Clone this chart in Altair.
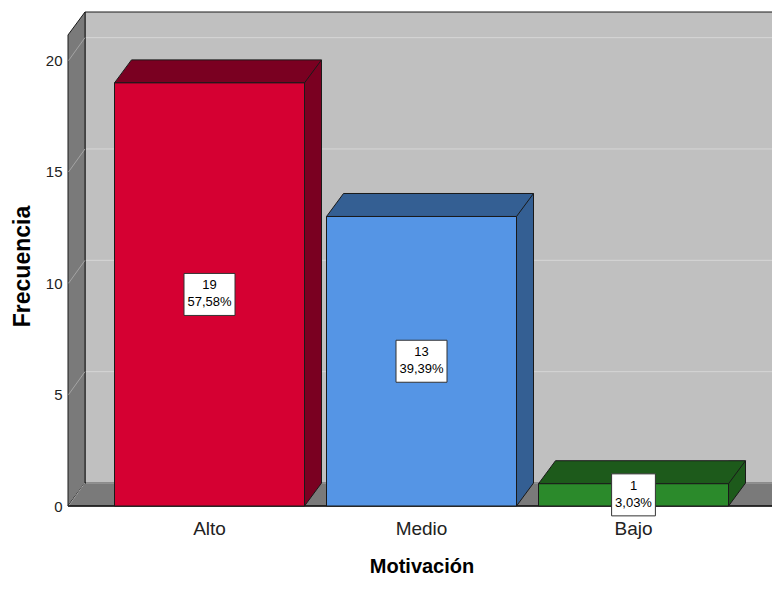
import altair as alt
import pandas as pd

# ---------------- data ----------------
categories = ["Alto", "Medio", "Bajo"]
counts = [19, 13, 1]
front_colors = ["#d50032", "#5595e5", "#2b8a2b"]
dark_colors = ["#7a0021", "#345f93", "#1d5a1b"]
y_ticks = [0, 5, 10, 15, 20]

total = sum(counts)
pcts = [f"{c / total * 100:.2f}".replace(".", ",") + "%" for c in counts]

# ---------------- layout constants (pixels) ----------------
W_FULL, H = 707, 471     # front plane
STEP, BW = 212, 190      # band step / bar width
DX, DY = 17, 23          # 3D depth offset
PAD_L, PAD_T = 60, 27
CANVAS_W, CANVAS_H = 764, 570
W = CANVAS_W - PAD_L     # declared plot width (front plane is cut by the page edge)
YMAX = 21.15
EDGE = "#1a1a1a"
FONT = "Liberation Sans"

p_inner = 1 - BW / STEP
p_outer = (W_FULL / STEP - len(categories) + p_inner) / 2
HB = BW / 2

# approximate text width (Arial metrics, 13px) for label boxes
_cw = {",": 278, "%": 889, ".": 278}
def text_w(s, fs=13):
    return sum(_cw.get(ch, 556) for ch in s) * fs / 1000

def box_path(s):
    hw = (text_w(s) + 7) / 2
    hh = 21
    return f"M{-hw:.1f},{-hh}L{hw:.1f},{-hh}L{hw:.1f},{hh}L{-hw:.1f},{hh}Z"

df = pd.DataFrame({
    "cat": categories,
    "count": counts,
    "front": front_colors,
    "dark": dark_colors,
    "pct": pcts,
    "mid": [c / 2 for c in counts],
    "box": [box_path(p) for p in pcts],
})
grid = pd.DataFrame({"v": y_ticks})
zero = pd.DataFrame({"v": [0]})

# ---------------- shared encodings ----------------
x_scale = alt.Scale(domain=categories, paddingInner=p_inner, paddingOuter=p_outer,
                    range=[0, W_FULL])
x_axis = alt.Axis(
    domain=False, ticks=False, tickSize=0, labelAngle=0,
    labelFont=FONT, labelFontSize=19, labelColor="#222222",
    labelBaseline="alphabetic", labelPadding=28,
    title="Motivación", titleFont=FONT, titleFontSize=20, titleFontWeight="bold",
    titleColor="#000000", titleBaseline="alphabetic", titleX=W_FULL / 2, titleY=66,
)
y_scale = alt.Scale(domain=[0, YMAX], nice=False, zero=True)
y_axis = alt.Axis(
    values=y_ticks, domain=False, ticks=False, tickSize=0, grid=False,
    labelFont=FONT, labelFontSize=15, labelColor="#222222", labelPadding=6,
    title="Frecuencia", titleFont=FONT, titleFontSize=23, titleFontWeight="bold",
    titleColor="#000000", titleBaseline="alphabetic", titleX=-39, titleY=231,
    titleAngle=-90,
)

def X():
    return alt.X("cat:N", sort=categories, scale=x_scale, axis=x_axis, title="Motivación")

def Y(field):
    return alt.Y(f"{field}:Q", scale=y_scale, axis=y_axis, title="Frecuencia")

def sym(path, **kw):
    base = dict(shape=path, size=4, opacity=1)
    base.update(kw)
    return base

# ---------------- walls ----------------
back_wall = alt.Chart(zero).mark_rect(
    fill="#c0c0c0", stroke=EDGE, strokeWidth=1
).encode(
    x=alt.value(DX), x2=alt.value(W_FULL + 40), y=alt.value(-DY), y2=alt.value(H - DY)
)

left_wall = alt.Chart(zero).mark_point(
    **sym(f"M0,0L0,{-H}L{DX},{-H - DY}L{DX},{-DY}Z", filled=True,
          fill="#7a7a7a", stroke=EDGE, strokeWidth=1)
).encode(x=alt.value(0), y=Y("v"))

floor = alt.Chart(zero).mark_point(
    **sym(f"M0,0L{W_FULL},0L{W_FULL + DX},{-DY}L{DX},{-DY}Z", filled=True,
          fill="#7a7a7a", stroke=EDGE, strokeWidth=1)
).encode(x=alt.value(0), y=Y("v"))

grid_back = alt.Chart(grid).mark_rule(
    color="#d6d6d6", strokeWidth=1, yOffset=-DY
).encode(y=Y("v"), x=alt.value(DX + 1), x2=alt.value(W_FULL + 40))

grid_side = alt.Chart(grid).mark_point(
    **sym(f"M0.5,0L{DX},{-DY}", filled=False, stroke="#a4a4a4", strokeWidth=1)
).encode(x=alt.value(0), y=Y("v"))

front_edge = alt.Chart(zero).mark_rule(color=EDGE, strokeWidth=1.5).encode(
    y=Y("v"), x=alt.value(0), x2=alt.value(W_FULL)
)

# ---------------- 3D bars ----------------
side = alt.Chart(df).mark_rule(
    strokeWidth=DX, xOffset=HB + DX / 2, yOffset=-DY, y2Offset=-DY, strokeCap="butt"
).encode(
    x=X(), y=Y("count"), y2=alt.datum(0),
    color=alt.Color("dark:N", scale=None),
)

side_tri = alt.Chart(df).mark_point(
    **sym(f"M{HB},{-DY - 1}L{HB + DX},{-DY - 1}L{HB + DX},{-DY}L{HB},0Z",
          filled=True, strokeWidth=0)
).encode(x=X(), y=alt.datum(0), fill=alt.Fill("dark:N", scale=None))

side_edge = alt.Chart(df).mark_rule(
    color=EDGE, strokeWidth=1, xOffset=HB + DX, yOffset=-DY, y2Offset=-DY
).encode(x=X(), y=Y("count"), y2=alt.datum(0))

side_diag = alt.Chart(df).mark_point(
    **sym(f"M{HB},0L{HB + DX},{-DY}", filled=False, stroke=EDGE, strokeWidth=1)
).encode(x=X(), y=alt.datum(0))

top_face = alt.Chart(df).mark_point(
    **sym(f"M{-HB},0L{HB},0L{HB + DX},{-DY}L{-HB + DX},{-DY}Z",
          filled=True, stroke=EDGE, strokeWidth=1)
).encode(x=X(), y=Y("count"), fill=alt.Fill("dark:N", scale=None))

front = alt.Chart(df).mark_rect(stroke=EDGE, strokeWidth=1).encode(
    x=X(), y=Y("count"), y2=alt.datum(0),
    fill=alt.Fill("front:N", scale=None),
)

# ---------------- value labels ----------------
boxes = alt.Chart(df).mark_point(
    size=4, opacity=1, filled=True, fill="white", stroke="#333333", strokeWidth=1
).encode(x=X(), y=Y("mid"), shape=alt.Shape("box:N", scale=None))

txt_n = alt.Chart(df).mark_text(dy=-9, font=FONT, fontSize=13, color="black").encode(
    x=X(), y=Y("mid"), text="count:Q"
)
txt_p = alt.Chart(df).mark_text(dy=8, font=FONT, fontSize=13, color="black").encode(
    x=X(), y=Y("mid"), text="pct:N"
)

chart = alt.layer(
    back_wall, left_wall, floor, grid_back, grid_side, front_edge,
    side, side_tri, top_face, front, side_edge, side_diag,
    boxes, txt_n, txt_p,
).properties(
    width=W, height=H,
    padding={"left": PAD_L, "top": PAD_T, "right": 0,
             "bottom": CANVAS_H - PAD_T - H},
    autosize=alt.AutoSizeParams(type="none"),
    background="white",
).configure_view(stroke=None)

chart.save("out.html", embed_options={"renderer": "svg", "actions": False})
